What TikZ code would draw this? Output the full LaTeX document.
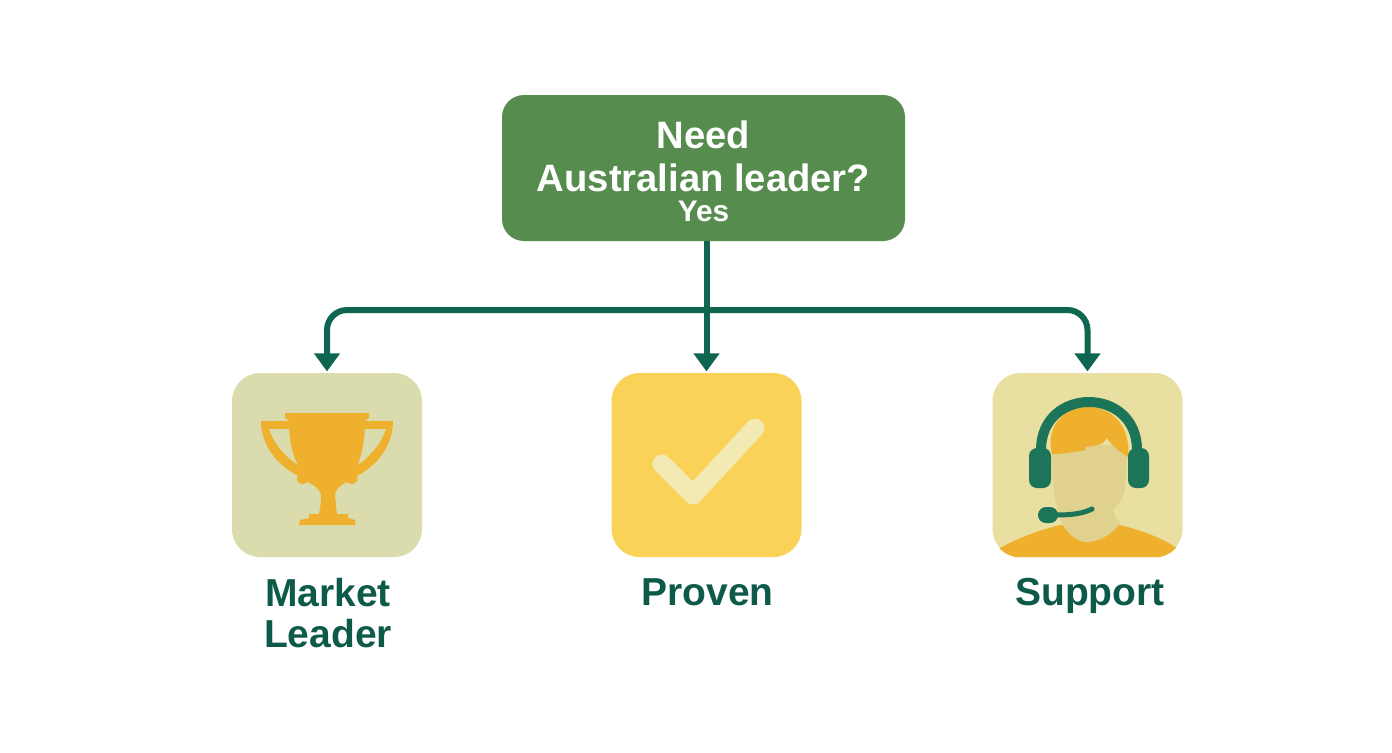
\documentclass[tikz,border=0pt]{standalone}
\usepackage{fontspec}
\setmainfont{Liberation Sans}
\usetikzlibrary{arrows.meta}
\definecolor{maingreen}{HTML}{568C4D}
\definecolor{darkgreen}{HTML}{0F6650}
\definecolor{labelgreen}{HTML}{0E5A4A}
\definecolor{sagebox}{HTML}{DADCAE}
\definecolor{yellowbox}{HTML}{FAD257}
\definecolor{creambox}{HTML}{E8DFA0}
\definecolor{gold}{HTML}{EFB12D}
\definecolor{checkcream}{HTML}{F3E9B3}
\definecolor{faceskin}{HTML}{E0D18E}
\definecolor{headset}{HTML}{1C7459}
\tikzset{
  decision/.style={fill=maingreen,rounded corners=11pt,minimum width=201.5pt,minimum height=73pt,inner sep=0pt,
    text=white,font=\bfseries,align=center},
  iconbox/.style={rounded corners=14pt,minimum width=95pt,minimum height=92pt,inner sep=0pt},
  caption/.style={text=labelgreen,font=\fontsize{19.5}{20.5}\selectfont\bfseries,align=center,inner sep=0pt},
  conn/.style={draw=darkgreen,line width=3pt,-{Triangle[width=12.5pt,length=9pt]}},
}
\begin{document}
\begin{tikzpicture}[x=0.5pt,y=-0.5pt]
\useasboundingbox[fill=white] (0,0) rectangle (1392,752);
\node[decision] (main) at (703.5,168) {%
  \fontsize{19.1}{21.5}\selectfont \rule{0pt}{17pt}Need\\[6.5pt]
  \fontsize{19.1}{21.5}\selectfont Australian leader?\\[3pt]
  \fontsize{14.9}{15}\selectfont Yes};
\node[iconbox,fill=sagebox] (a) at (327,465) {};
\node[iconbox,fill=yellowbox] (b) at (706.5,465) {};
\node[iconbox,fill=creambox] (c) at (1087.5,465) {};
\node[caption,anchor=north] (la) at (328,578) {Market\\Leader};
\node[caption,anchor=north] (lb) at (707.5,578) {Proven};
\node[caption,anchor=north] (lc) at (1090,578) {Support};
\coordinate (j) at (706,310);
% connectors
\draw[conn] (main.south -| b.north) -- ([yshift=0.6pt]b.north);
\draw[conn,rounded corners=10pt] (j) -| ([yshift=0.6pt]a.north);
\draw[conn,rounded corners=10pt] (j) -| ([yshift=0.6pt]c.north);
% trophy
\fill[gold] (285,413) -- (369,413) -- (369,418) -- (365,421) -- (393,421)
  .. controls (393,445) and (378,465) .. (357,476)
  .. controls (360,482) and (352,487) .. (347,482)
  .. controls (340,485) and (335,490) .. (335,495)
  .. controls (336,503) and (336,509) .. (337,514) -- (348,514) -- (348,518) -- (355,520) -- (355,525)
  -- (299,525) -- (300,520) -- (309,518) -- (309,514) -- (319,514)
  .. controls (320,509) and (321,503) .. (321,495)
  .. controls (320,490) and (315,485) .. (307,482)
  .. controls (302,487) and (294,482) .. (298,476)
  .. controls (277,465) and (261,445) .. (261,421) -- (289,421) -- (285,418) -- cycle;
\fill[sagebox] (365,429) -- (386,429) .. controls (381,444) and (370,456) .. (358,465)
  .. controls (361,457) and (364,445) .. (365,429) -- cycle;
\fill[sagebox] (289,429) -- (269,429) .. controls (274,444) and (285,456) .. (298,465)
  .. controls (293,457) and (290,445) .. (289,429) -- cycle;
% check mark
\draw[checkcream,line width=9.5pt,line cap=round,line join=round] (662,464) -- (693,495) -- (755,428);
% person with headset
\begin{scope}
\clip[rounded corners=14pt] (c.south west) rectangle (c.north east);
\fill[gold] (995,557) -- (1000,548) .. controls (1020,537) and (1040,530) .. (1060,525)
  -- (1120,525) .. controls (1140,530) and (1160,537) .. (1177,548) -- (1180,557) -- cycle;
\end{scope}
\fill[faceskin] (1052,445) -- (1053,480) .. controls (1054,500) and (1058,512) .. (1062,523)
  .. controls (1068,535) and (1078,542) .. (1087,542)
  .. controls (1100,542) and (1115,532) .. (1120,523)
  .. controls (1116,518) and (1113,514) .. (1113,510)
  .. controls (1120,503) and (1125,495) .. (1125,487) -- (1128,445) -- cycle;
\fill[gold] (1052,454) .. controls (1046,430) and (1060,407) .. (1088,407)
  .. controls (1115,407) and (1131,430) .. (1128,457)
  .. controls (1120,452) and (1112,446) .. (1107,438)
  -- (1103,443) .. controls (1097,446) and (1092,446) .. (1085,447) -- (1086,450)
  .. controls (1075,452) and (1062,454) .. (1052,454) -- cycle;
\draw[headset,line width=5pt] (1041,450) .. controls (1041,386) and (1137,386) .. (1137,450);
\fill[headset,rounded corners=4pt] (1029,448) rectangle (1051,488);
\fill[headset,rounded corners=4pt] (1128,448) rectangle (1149,488);
\draw[headset,line width=2.5pt,line cap=round] (1052,515) .. controls (1065,515) and (1080,515) .. (1092,509);
\fill[headset,rounded corners=4pt] (1038,507) rectangle (1058,523);
\end{tikzpicture}
\end{document}
